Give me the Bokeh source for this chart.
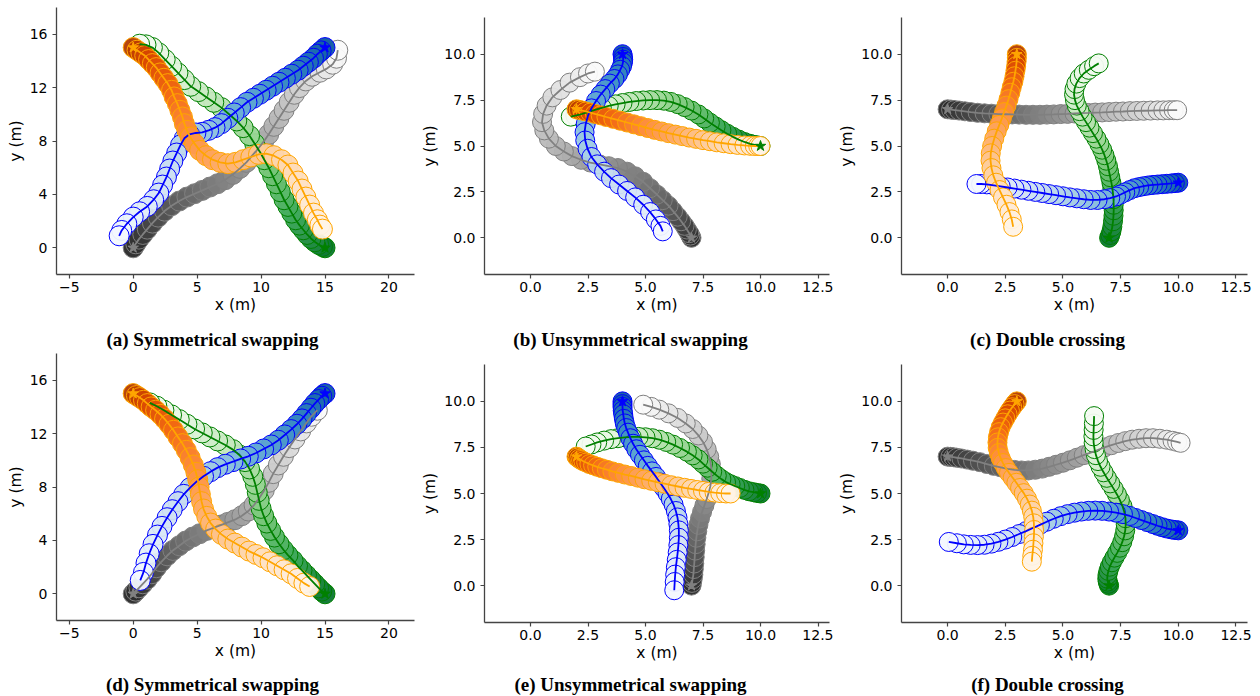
from bokeh.plotting import figure
from bokeh.layouts import column, row
from bokeh.models import Range1d, FixedTicker
from bokeh.palettes import Oranges256, Greens256, Blues256, Greys256
from bokeh.embed import file_html
from bokeh.resources import INLINE
from bokeh.core.properties import value

# ---------------- data (x, y) in metres, start -> end ----------------
# (a) Symmetrical swapping
a_gray = [(0.0,0.0),(0.2,0.3),(0.45,0.65),(0.75,1.0),(1.1,1.4),(1.5,1.85),(1.95,2.3),(2.45,2.75),(3.0,3.15),(3.6,3.5),(4.2,3.8),(4.8,4.05),(5.4,4.3),(6.0,4.55),(6.6,4.8),(7.2,5.1),(7.8,5.5),(8.35,5.95),(8.85,6.4),(9.3,6.9),(9.75,7.4),(10.2,7.95),(10.6,8.5),(11.0,9.1),(11.4,9.7),(11.8,10.3),(12.2,10.9),(12.6,11.5),(13.0,12.0),(13.5,12.5),(14.0,12.85),(14.6,13.15),(15.1,13.4),(15.6,13.75),(15.9,14.2),(16.0,14.8)]
a_green = [(15.0,0.0),(14.8,0.1),(14.5,0.25),(14.2,0.45),(13.9,0.7),(13.6,1.0),(13.3,1.35),(13.0,1.7),(12.7,2.1),(12.4,2.6),(12.1,3.1),(11.8,3.6),(11.5,4.2),(11.2,4.8),(10.9,5.4),(10.6,6.0),(10.25,6.6),(9.9,7.2),(9.5,7.8),(9.1,8.4),(8.6,9.0),(8.1,9.5),(7.5,10.0),(6.9,10.5),(6.3,10.9),(5.7,11.3),(5.1,11.7),(4.5,12.1),(4.0,12.6),(3.5,13.1),(3.0,13.6),(2.5,14.1),(2.0,14.6),(1.5,15.0),(1.0,15.2),(0.5,15.25)]
a_blue = [(15.0,15.0),(14.7,14.75),(14.4,14.5),(14.1,14.2),(13.7,13.9),(13.3,13.6),(12.9,13.3),(12.4,13.0),(11.9,12.7),(11.4,12.4),(10.9,12.1),(10.4,11.8),(9.9,11.5),(9.4,11.2),(8.9,10.9),(8.4,10.5),(7.9,10.1),(7.4,9.7),(6.9,9.3),(6.4,9.0),(5.9,8.8),(5.4,8.65),(4.9,8.6),(4.4,8.5),(4.0,8.2),(3.7,7.7),(3.4,7.1),(3.1,6.5),(2.85,5.9),(2.6,5.3),(2.3,4.7),(2.0,4.1),(1.6,3.6),(1.1,3.1),(0.5,2.7),(0.0,2.3),(-0.5,1.8),(-0.9,1.3),(-1.1,0.9)]
a_orange = [(0.0,15.0),(0.3,14.8),(0.6,14.6),(0.9,14.4),(1.2,14.1),(1.5,13.8),(1.8,13.5),(2.1,13.1),(2.4,12.7),(2.7,12.3),(3.0,11.8),(3.2,11.3),(3.45,10.8),(3.65,10.3),(3.85,9.8),(4.0,9.3),(4.2,8.8),(4.45,8.3),(4.8,7.8),(5.2,7.3),(5.7,6.9),(6.2,6.6),(6.8,6.4),(7.4,6.3),(8.0,6.4),(8.6,6.6),(9.2,6.8),(9.8,7.0),(10.4,7.05),(11.0,6.9),(11.6,6.6),(12.1,6.2),(12.5,5.6),(12.9,5.0),(13.2,4.4),(13.5,3.8),(13.8,3.2),(14.1,2.6),(14.4,2.1),(14.6,1.7),(14.8,1.4)]

# (b) Unsymmetrical swapping
b_gray = [(7.0,0.0),(6.95,0.12),(6.9,0.25),(6.8,0.45),(6.7,0.65),(6.55,0.9),(6.4,1.15),(6.2,1.45),(6.0,1.75),(5.75,2.05),(5.5,2.35),(5.2,2.7),(4.9,3.05),(4.55,3.35),(4.2,3.6),(3.8,3.8),(3.4,3.9),(3.0,4.0),(2.6,4.1),(2.2,4.25),(1.8,4.45),(1.45,4.7),(1.1,5.0),(0.8,5.4),(0.6,5.85),(0.5,6.3),(0.55,6.75),(0.7,7.2),(0.95,7.65),(1.3,8.05),(1.7,8.45),(2.15,8.75),(2.5,8.95),(2.8,9.05)]
b_green = [(10.0,5.0),(9.8,5.05),(9.55,5.12),(9.3,5.22),(9.05,5.35),(8.8,5.5),(8.55,5.67),(8.3,5.86),(8.05,6.06),(7.8,6.27),(7.55,6.5),(7.3,6.72),(7.0,6.93),(6.7,7.12),(6.4,7.28),(6.1,7.4),(5.8,7.47),(5.5,7.5),(5.2,7.5),(4.9,7.48),(4.6,7.45),(4.3,7.4),(4.0,7.34),(3.7,7.27),(3.4,7.18),(3.1,7.08),(2.8,6.97),(2.5,6.85),(2.2,6.73),(1.95,6.65),(1.75,6.6)]
b_blue = [(4.0,10.0),(4.02,9.85),(4.03,9.7),(4.02,9.55),(3.98,9.35),(3.9,9.15),(3.8,8.9),(3.65,8.65),(3.45,8.4),(3.25,8.1),(3.05,7.8),(2.85,7.45),(2.65,7.05),(2.5,6.65),(2.4,6.2),(2.35,5.75),(2.38,5.3),(2.48,4.85),(2.65,4.4),(2.9,4.0),(3.2,3.6),(3.5,3.25),(3.85,2.9),(4.2,2.55),(4.55,2.2),(4.9,1.8),(5.2,1.4),(5.45,1.0),(5.65,0.65),(5.75,0.35)]
b_orange = [(2.0,7.0),(2.1,6.97),(2.25,6.93),(2.4,6.88),(2.6,6.82),(2.8,6.75),(3.05,6.67),(3.3,6.58),(3.6,6.48),(3.9,6.38),(4.2,6.28),(4.5,6.18),(4.8,6.08),(5.1,5.98),(5.4,5.88),(5.7,5.79),(6.0,5.7),(6.3,5.62),(6.6,5.54),(6.9,5.46),(7.2,5.39),(7.5,5.32),(7.8,5.26),(8.1,5.2),(8.4,5.15),(8.7,5.1),(9.0,5.06),(9.3,5.03),(9.55,5.01),(9.75,5.0),(9.9,5.0),(10.0,5.0)]

# (c) Double crossing
c_gray = [(0.0,7.0),(0.15,6.98),(0.3,6.96),(0.5,6.93),(0.75,6.89),(1.0,6.85),(1.3,6.81),(1.6,6.78),(1.9,6.76),(2.2,6.74),(2.5,6.73),(2.8,6.72),(3.1,6.71),(3.4,6.7),(3.7,6.7),(4.0,6.7),(4.3,6.71),(4.6,6.72),(4.9,6.74),(5.2,6.75),(5.5,6.77),(5.8,6.79),(6.1,6.8),(6.4,6.82),(6.7,6.83),(7.0,6.85),(7.3,6.87),(7.6,6.88),(7.9,6.9),(8.2,6.91),(8.5,6.92),(8.8,6.93),(9.1,6.94),(9.35,6.94),(9.6,6.95),(9.8,6.95),(9.95,6.95)]
c_green = [(7.0,0.0),(7.05,0.15),(7.1,0.35),(7.14,0.6),(7.17,0.9),(7.19,1.2),(7.2,1.5),(7.2,1.8),(7.19,2.1),(7.17,2.4),(7.14,2.7),(7.1,3.0),(7.05,3.3),(7.0,3.6),(6.95,3.9),(6.88,4.2),(6.8,4.5),(6.7,4.8),(6.58,5.1),(6.45,5.4),(6.3,5.7),(6.15,6.0),(6.0,6.3),(5.85,6.6),(5.72,6.9),(5.6,7.2),(5.52,7.5),(5.48,7.8),(5.5,8.1),(5.58,8.4),(5.72,8.7),(5.9,8.95),(6.12,9.15),(6.35,9.35),(6.55,9.5)]
c_blue = [(10.0,3.0),(9.85,2.98),(9.7,2.96),(9.5,2.94),(9.3,2.92),(9.1,2.9),(8.9,2.88),(8.7,2.85),(8.5,2.81),(8.3,2.76),(8.1,2.7),(7.9,2.6),(7.7,2.48),(7.5,2.36),(7.3,2.25),(7.05,2.16),(6.8,2.1),(6.5,2.06),(6.2,2.06),(5.9,2.1),(5.6,2.15),(5.3,2.2),(5.0,2.26),(4.7,2.32),(4.4,2.38),(4.1,2.44),(3.8,2.5),(3.5,2.56),(3.2,2.62),(2.9,2.68),(2.6,2.74),(2.3,2.8),(2.0,2.86),(1.7,2.91),(1.45,2.93),(1.25,2.93)]
c_orange = [(3.0,10.0),(3.0,9.8),(2.99,9.6),(2.97,9.35),(2.94,9.1),(2.9,8.8),(2.85,8.5),(2.78,8.2),(2.72,7.9),(2.64,7.55),(2.55,7.2),(2.45,6.85),(2.35,6.5),(2.24,6.15),(2.13,5.8),(2.02,5.4),(1.93,5.0),(1.87,4.6),(1.86,4.2),(1.9,3.8),(1.98,3.4),(2.1,3.0),(2.25,2.6),(2.4,2.2),(2.55,1.8),(2.68,1.4),(2.78,1.0),(2.84,0.6)]

# (d) Symmetrical swapping
d_gray = [(0.0,0.0),(0.2,0.2),(0.45,0.45),(0.75,0.75),(1.1,1.1),(1.45,1.5),(1.8,1.95),(2.2,2.4),(2.65,2.85),(3.1,3.25),(3.6,3.6),(4.1,3.95),(4.65,4.25),(5.2,4.5),(5.75,4.75),(6.3,4.95),(6.85,5.15),(7.4,5.35),(7.95,5.55),(8.5,5.85),(9.0,6.2),(9.45,6.65),(9.85,7.15),(10.25,7.75),(10.6,8.35),(10.95,9.0),(11.35,9.65),(11.75,10.3),(12.2,10.95),(12.65,11.6),(13.1,12.2),(13.55,12.8),(13.95,13.3),(14.4,13.75)]
d_green = [(15.0,0.0),(14.75,0.2),(14.5,0.45),(14.2,0.75),(13.9,1.05),(13.55,1.4),(13.2,1.75),(12.85,2.1),(12.5,2.5),(12.1,2.9),(11.75,3.3),(11.4,3.75),(11.05,4.25),(10.75,4.75),(10.45,5.3),(10.2,5.85),(10.0,6.4),(9.85,7.0),(9.7,7.6),(9.55,8.2),(9.35,8.8),(9.1,9.35),(8.75,9.9),(8.3,10.4),(7.8,10.8),(7.2,11.15),(6.6,11.45),(6.0,11.75),(5.4,12.05),(4.8,12.35),(4.2,12.7),(3.6,13.05),(3.0,13.4),(2.4,13.75),(1.85,14.05),(1.3,14.3)]
d_blue = [(15.0,15.0),(14.75,14.8),(14.5,14.55),(14.2,14.25),(13.9,13.9),(13.55,13.5),(13.2,13.1),(12.8,12.7),(12.35,12.3),(11.85,11.9),(11.35,11.5),(10.8,11.15),(10.2,10.85),(9.6,10.55),(9.0,10.3),(8.4,10.1),(7.8,9.9),(7.2,9.7),(6.6,9.45),(6.05,9.15),(5.5,8.8),(4.95,8.4),(4.45,7.95),(3.95,7.45),(3.5,6.9),(3.05,6.3),(2.65,5.7),(2.25,5.05),(1.9,4.4),(1.55,3.7),(1.25,3.0),(1.0,2.3),(0.8,1.6),(0.55,1.0)]
d_orange = [(0.0,15.0),(0.25,14.85),(0.5,14.7),(0.8,14.5),(1.1,14.25),(1.4,14.0),(1.75,13.75),(2.1,13.45),(2.45,13.1),(2.8,12.7),(3.15,12.25),(3.5,11.75),(3.85,11.25),(4.15,10.75),(4.45,10.2),(4.7,9.65),(4.9,9.1),(5.05,8.55),(5.15,8.0),(5.25,7.45),(5.35,6.9),(5.5,6.35),(5.75,5.8),(6.05,5.3),(6.45,4.85),(6.9,4.45),(7.4,4.1),(7.95,3.8),(8.5,3.5),(9.05,3.2),(9.6,2.95),(10.15,2.7),(10.7,2.4),(11.25,2.1),(11.8,1.8),(12.35,1.5),(12.85,1.15),(13.35,0.8),(13.8,0.55)]

# (e) Unsymmetrical swapping
e_gray = [(7.0,0.0),(7.02,0.15),(7.05,0.35),(7.08,0.6),(7.1,0.9),(7.12,1.2),(7.14,1.55),(7.16,1.9),(7.18,2.25),(7.21,2.6),(7.25,2.95),(7.3,3.3),(7.37,3.65),(7.46,4.0),(7.56,4.35),(7.66,4.7),(7.75,5.05),(7.82,5.4),(7.86,5.8),(7.87,6.2),(7.84,6.6),(7.77,7.0),(7.66,7.4),(7.5,7.8),(7.3,8.15),(7.05,8.5),(6.75,8.8),(6.4,9.1),(6.0,9.35),(5.6,9.55),(5.25,9.7),(4.9,9.82)]
e_green = [(10.0,5.0),(9.85,5.03),(9.7,5.07),(9.5,5.12),(9.3,5.2),(9.1,5.3),(8.9,5.4),(8.7,5.5),(8.5,5.62),(8.3,5.78),(8.1,5.97),(7.9,6.18),(7.7,6.4),(7.5,6.62),(7.3,6.85),(7.05,7.07),(6.8,7.27),(6.5,7.47),(6.2,7.65),(5.9,7.8),(5.6,7.92),(5.3,8.0),(5.0,8.05),(4.7,8.07),(4.4,8.07),(4.1,8.05),(3.8,8.0),(3.5,7.95),(3.2,7.87),(2.9,7.77),(2.65,7.66),(2.4,7.55)]
e_blue = [(4.0,10.0),(4.0,9.85),(4.0,9.7),(4.01,9.5),(4.03,9.3),(4.06,9.05),(4.1,8.8),(4.16,8.55),(4.24,8.3),(4.34,8.0),(4.46,7.7),(4.6,7.4),(4.76,7.1),(4.93,6.8),(5.1,6.5),(5.28,6.2),(5.46,5.9),(5.63,5.6),(5.8,5.3),(5.96,5.0),(6.1,4.7),(6.22,4.4),(6.32,4.05),(6.39,3.7),(6.43,3.35),(6.45,3.0),(6.45,2.6),(6.43,2.2),(6.4,1.8),(6.36,1.4),(6.32,1.0),(6.29,0.6),(6.27,0.2),(6.25,-0.25)]
e_orange = [(2.0,7.0),(2.05,6.95),(2.12,6.88),(2.2,6.82),(2.3,6.75),(2.42,6.68),(2.56,6.6),(2.72,6.53),(2.9,6.45),(3.1,6.37),(3.32,6.29),(3.56,6.2),(3.82,6.12),(4.1,6.03),(4.38,5.95),(4.67,5.86),(4.96,5.77),(5.25,5.69),(5.54,5.61),(5.83,5.53),(6.12,5.45),(6.41,5.38),(6.7,5.31),(6.98,5.25),(7.25,5.19),(7.5,5.14),(7.75,5.09),(8.0,5.05),(8.25,5.02),(8.5,5.0),(8.7,5.0)]

# (f) Double crossing
f_gray = [(0.0,7.0),(0.12,6.99),(0.25,6.97),(0.4,6.94),(0.6,6.9),(0.85,6.84),(1.1,6.78),(1.4,6.7),(1.7,6.6),(2.0,6.5),(2.3,6.42),(2.6,6.34),(2.9,6.28),(3.2,6.25),(3.5,6.25),(3.8,6.29),(4.1,6.35),(4.4,6.45),(4.7,6.56),(5.0,6.67),(5.3,6.8),(5.6,6.94),(5.9,7.08),(6.2,7.22),(6.5,7.36),(6.8,7.5),(7.1,7.62),(7.4,7.74),(7.7,7.84),(8.0,7.92),(8.3,7.97),(8.6,8.0),(8.9,8.0),(9.2,7.97),(9.5,7.92),(9.75,7.86),(9.95,7.8),(10.1,7.75)]
f_green = [(7.0,0.0),(6.97,0.1),(6.94,0.22),(6.92,0.38),(6.93,0.58),(6.97,0.8),(7.03,1.03),(7.12,1.27),(7.23,1.52),(7.35,1.78),(7.47,2.06),(7.57,2.36),(7.65,2.68),(7.7,3.0),(7.72,3.33),(7.71,3.66),(7.66,3.99),(7.58,4.32),(7.47,4.64),(7.34,4.95),(7.2,5.25),(7.05,5.55),(6.9,5.85),(6.76,6.15),(6.63,6.45),(6.52,6.76),(6.43,7.08),(6.37,7.41),(6.33,7.75),(6.32,8.1),(6.33,8.45),(6.34,8.8),(6.35,9.2)]
f_blue = [(10.0,3.0),(9.85,3.02),(9.7,3.05),(9.5,3.1),(9.3,3.17),(9.1,3.25),(8.9,3.34),(8.65,3.45),(8.4,3.56),(8.15,3.67),(7.9,3.78),(7.6,3.88),(7.3,3.96),(7.0,4.02),(6.7,4.06),(6.4,4.07),(6.1,4.06),(5.8,4.02),(5.5,3.96),(5.2,3.88),(4.9,3.77),(4.6,3.63),(4.3,3.47),(4.0,3.3),(3.7,3.13),(3.4,2.96),(3.1,2.8),(2.8,2.64),(2.5,2.5),(2.2,2.38),(1.9,2.28),(1.6,2.22),(1.3,2.2),(1.0,2.21),(0.7,2.24),(0.4,2.3),(0.05,2.37)]
f_orange = [(3.0,10.0),(2.9,9.85),(2.8,9.68),(2.7,9.5),(2.6,9.3),(2.5,9.08),(2.4,8.85),(2.3,8.6),(2.23,8.33),(2.18,8.05),(2.16,7.77),(2.17,7.48),(2.22,7.2),(2.3,6.92),(2.4,6.65),(2.52,6.38),(2.66,6.12),(2.82,5.85),(2.98,5.58),(3.14,5.3),(3.3,5.02),(3.44,4.72),(3.56,4.4),(3.65,4.07),(3.71,3.73),(3.74,3.38),(3.75,3.02),(3.74,2.66),(3.72,2.3),(3.7,1.95),(3.67,1.62),(3.65,1.3)]

captions = ["(a) Symmetrical swapping", "(b) Unsymmetrical swapping", "(c) Double crossing",
            "(d) Symmetrical swapping", "(e) Unsymmetrical swapping", "(f) Double crossing"]

wide_xticks = [-5, 0, 5, 10, 15, 20]
wide_xlabels = ["\u22125", "0", "5", "10", "15", "20"]
wide_yticks = [0, 4, 8, 12, 16]
wide_ylabels = ["0", "4", "8", "12", "16"]
small_xticks = [0, 2.5, 5, 7.5, 10, 12.5]
small_xlabels = ["0.0", "2.5", "5.0", "7.5", "10.0", "12.5"]
small_yticks = [0, 2.5, 5, 7.5, 10]
small_ylabels = ["0.0", "2.5", "5.0", "7.5", "10.0"]

# ---------------- styling ----------------
AGENTS = {
    "gray": ("#808080", Greys256),
    "green": ("#008000", Greens256),
    "blue": ("#0000ff", Blues256),
    "orange": ("#ffa500", Oranges256),
}
ORDER = ["gray", "green", "blue", "orange"]
AXC = "#444444"


def shades(pal, n, lo=40, hi=250):
    return [pal[int(round(lo + (hi - lo) * i / max(n - 1, 1)))] for i in range(n)]


def panel(trajs, xr, yr, xt, xl, yt, yl, fw, fh, left, right, top, bottom, msize):
    p = figure(width=left + fw + right, height=top + fh + bottom,
               x_range=Range1d(*xr), y_range=Range1d(*yr),
               output_backend="svg", toolbar_location=None,
               min_border_left=left, min_border_right=right,
               min_border_top=top, min_border_bottom=bottom)
    p.grid.visible = False
    p.outline_line_color = None
    p.background_fill_color = "white"
    p.border_fill_color = "white"
    for name in ORDER:
        pts = trajs[name]
        base, pal = AGENTS[name]
        xs = [q[0] for q in pts]
        ys = [q[1] for q in pts]
        p.scatter(xs, ys, marker="circle", size=msize, fill_color=shades(pal, len(pts)),
                  fill_alpha=0.95, line_color=base, line_width=1.0)
    for name in ORDER:
        pts = trajs[name]
        base, _ = AGENTS[name]
        p.line([q[0] for q in pts], [q[1] for q in pts], line_color=base, line_width=1.8)
    for name in ORDER:
        pts = trajs[name]
        base, _ = AGENTS[name]
        p.scatter([pts[0][0]], [pts[0][1]], marker="star", size=11, fill_color=base,
                  line_color=base, line_width=1)

    p.xaxis.ticker = FixedTicker(ticks=xt)
    p.yaxis.ticker = FixedTicker(ticks=yt)
    p.xaxis.major_label_overrides = {float(t): s for t, s in zip(xt, xl)}
    p.yaxis.major_label_overrides = {float(t): s for t, s in zip(yt, yl)}
    p.xaxis.axis_label = "x (m)"
    p.yaxis.axis_label = "y (m)"
    for ax in (p.xaxis[0], p.yaxis[0]):
        ax.axis_line_color = AXC
        ax.axis_line_width = 1.3
        ax.major_tick_line_color = AXC
        ax.major_tick_line_width = 1.2
        ax.major_tick_in = 0
        ax.major_tick_out = 4
        ax.minor_tick_line_color = None
        ax.major_label_text_font = "DejaVu Sans"
        ax.major_label_text_font_size = "14px"
        ax.major_label_text_color = "black"
        ax.axis_label_text_font = "DejaVu Sans"
        ax.axis_label_text_font_size = "15.5px"
        ax.axis_label_text_font_style = "normal"
        ax.axis_label_text_color = "black"
    p.xaxis.major_label_standoff = 3
    p.xaxis.axis_label_standoff = 1
    p.yaxis.major_label_standoff = 5
    p.yaxis.axis_label_standoff = 2
    return column(p)


def caption(text, w, h, cx, cy):
    c = figure(width=w, height=h, x_range=Range1d(0, w), y_range=Range1d(0, h),
               x_axis_location=None, y_axis_location=None, output_backend="svg",
               toolbar_location=None, min_border=0)
    c.grid.visible = False
    c.outline_line_color = None
    c.text(x=[cx], y=[cy], text=[text], text_align="center", text_baseline="middle",
           text_font=value("Liberation Serif"), text_font_style="bold",
           text_font_size="19px", text_color="black")
    return column(c)


W_RANGE = ((-6, 22), (-2, 18))
S_RANGE = ((-2, 13), (-2, 12))

pa = panel({"gray": a_gray, "green": a_green, "blue": a_blue, "orange": a_orange},
           W_RANGE[0], W_RANGE[1], wide_xticks, wide_xlabels, wide_yticks, wide_ylabels,
           358, 267, 56, 4, 7, 42, 20)
pb = panel({"gray": b_gray, "green": b_green, "blue": b_blue, "orange": b_orange},
           S_RANGE[0], S_RANGE[1], small_xticks, small_xlabels, small_yticks, small_ylabels,
           345, 258, 66, 4, 17, 41, 19)
pc = panel({"gray": c_gray, "green": c_green, "blue": c_blue, "orange": c_orange},
           S_RANGE[0], S_RANGE[1], small_xticks, small_xlabels, small_yticks, small_ylabels,
           346, 258, 68, 13, 17, 41, 19)
pd = panel({"gray": d_gray, "green": d_green, "blue": d_blue, "orange": d_orange},
           W_RANGE[0], W_RANGE[1], wide_xticks, wide_xlabels, wide_yticks, wide_ylabels,
           358, 267, 56, 4, 3, 44, 20)
pe = panel({"gray": e_gray, "green": e_green, "blue": e_blue, "orange": e_orange},
           S_RANGE[0], S_RANGE[1], small_xticks, small_xlabels, small_yticks, small_ylabels,
           345, 258, 66, 4, 14, 42, 19)
pf = panel({"gray": f_gray, "green": f_green, "blue": f_blue, "orange": f_orange},
           S_RANGE[0], S_RANGE[1], small_xticks, small_xlabels, small_yticks, small_ylabels,
           346, 258, 68, 13, 14, 42, 19)

ca = caption(captions[0], 418, 34, 212, 11)
cb = caption(captions[1], 415, 34, 212, 11)
cc = caption(captions[2], 427, 34, 214, 11)
cd = caption(captions[3], 418, 32, 212, 12)
ce = caption(captions[4], 415, 32, 212, 12)
cf = caption(captions[5], 427, 32, 214, 12)

layout = column(row(pa, pb, pc), row(ca, cb, cc), row(pd, pe, pf), row(cd, ce, cf))
open("out.html", "w").write(file_html(layout, INLINE))
